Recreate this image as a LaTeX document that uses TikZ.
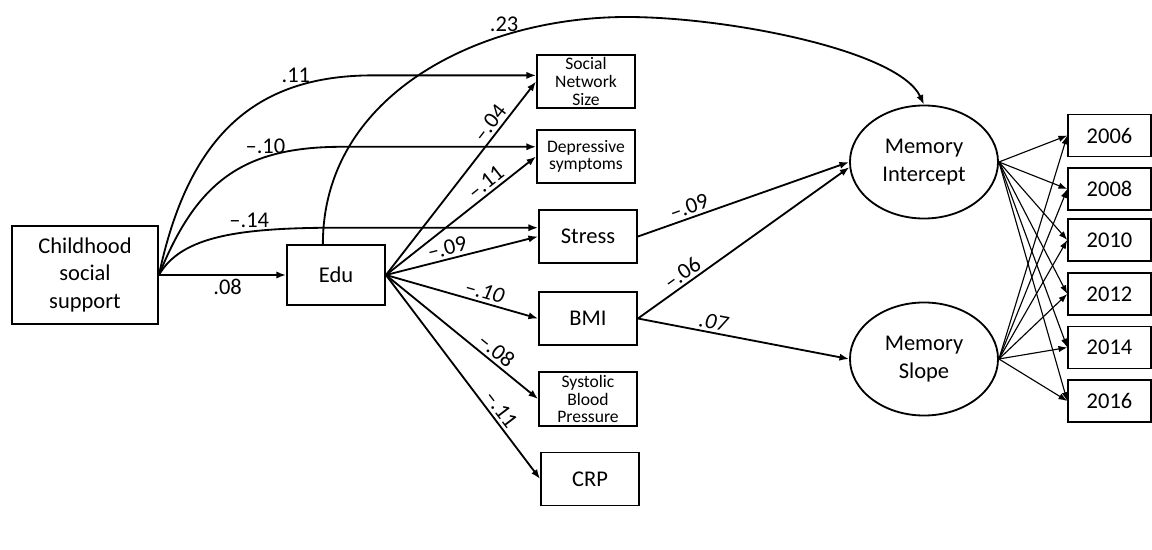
\documentclass[tikz,border=0pt]{standalone}
\usepackage{fontspec}
\setmainfont{Carlito}
\usepackage{tikz}
\usetikzlibrary{arrows.meta,shapes.geometric}

\begin{document}
\begin{tikzpicture}[
        x=0.025cm, y=0.025cm,
        font=\fontsize{16}{19.5}\selectfont,
        var/.style={rectangle, draw=black, line width=1.3pt, inner sep=1pt, minimum width=2.45cm, minimum height=1.325cm, align=center},
        svar/.style={var, font=\fontsize{12.5}{12.5}\selectfont},
        lat/.style={ellipse, draw=black, line width=1.3pt, inner sep=0pt, minimum width=3.7cm, minimum height=2.825cm, align=center},
        wave/.style={var, line width=1pt, minimum width=2.075cm, minimum height=1.05cm},
        eff/.style={line width=1.3pt, -{Latex[length=2.4mm, width=1.8mm]}},
        load/.style={line width=0.8pt, -{Latex[length=2.2mm, width=1.6mm]}},
        coef/.style={inner sep=2pt},
    ]
    \useasboundingbox (0,0) rectangle (1152,-550);
    % --- observed variables ---
    \node[var, minimum width=3.65cm, minimum height=2.45cm] (css) at (85,-275) {Childhood\\social\\support};
    \node[var, minimum height=1.5cm] (edu) at (336,-275) {Edu};
    \node[svar] (sns) at (586,-81.5) {Social\\Network\\Size};
    \node[svar] (dep) at (586,-156.5) {Depressive\\symptoms};
    \node[var] (str) at (588,-236.5) {Stress};
    \node[var] (bmi) at (588,-318.5) {BMI};
    \node[svar, minimum height=1.35cm] (sbp) at (588,-399) {Systolic\\Blood\\Pressure};
    \node[var] (crp) at (590,-479) {CRP};
    % --- latent growth factors and waves ---
    \node[lat] (mi) at (924,-162) {Memory\\Intercept};
    \node[lat] (ms) at (924,-359) {Memory\\Slope};
    \foreach \yr/\yy in {2006/135.5,2008/189,2010/240,2012/294,2014/347.5,2016/401}
        \node[wave] (w\yr) at (1109.5,-\yy) {\yr};
    \coordinate (peak) at (627,-17);
    % --- childhood social support paths ---
    \draw[eff] (css.east) -- node[coef, pos=.54, below] {.08} (edu.west);
    \draw[eff] (css.east) .. controls +(78:140) and +(-120,0) .. node[coef, pos=.76, above] {.11} ([xshift=-4.075cm]sns.173) -- (sns.173);
    \draw[eff] (css.east) .. controls +(68:100) and +(-100,0) .. node[coef, pos=.7, above] {--.10} ([xshift=-4.85cm]dep.169) -- (dep.169);
    \draw[eff] (css.east) .. controls +(60:45) and +(-100,0) .. node[coef, pos=.65, above] {--.14} ([xshift=-4.975cm]str.170) -- (str.170);
    % --- education paths ---
    \draw[eff] (edu.east) -- node[coef, sloped, above, pos=.75] {--.04} (sns.west);
    \draw[eff] (edu.east) -- node[coef, sloped, above, pos=.71] {--.11} (dep.west);
    \draw[eff] (edu.east) -- node[coef, sloped, above, pos=.42] {--.09} (str.west);
    \draw[eff] (edu.east) -- node[coef, sloped, above, pos=.63] {\textit{--.10}} (bmi.west);
    \draw[eff] (edu.east) -- node[coef, sloped, above, pos=.68] {--.08} (sbp.west);
    \draw[eff] (edu.east) -- node[coef, sloped, above, pos=.69] {--.11} (crp.west);
    \draw[eff] (edu.113) to[out=90, in=180] node[coef, pos=.72, above] {.23} (peak)
        .. controls +(100,0) and +(115:60) .. (mi.north);
    % --- mediators to memory ---
    \draw[eff] (str.east) -- node[coef, sloped, above, pos=.26] {--.09} (mi.west);
    \draw[eff] (bmi.east) -- node[coef, sloped, above, pos=.24] {--.06} (mi.184);
    \draw[eff] (bmi.east) -- node[coef, sloped, above, pos=.35] {\textit{.07}} (ms.west);
    % --- loadings ---
    \foreach \yr in {2006,2008,...,2016} {
        \draw[load] (mi.east) -- (w\yr.west);
        \draw[load] (ms.east) -- (w\yr.west);
    }
\end{tikzpicture}
\end{document}
